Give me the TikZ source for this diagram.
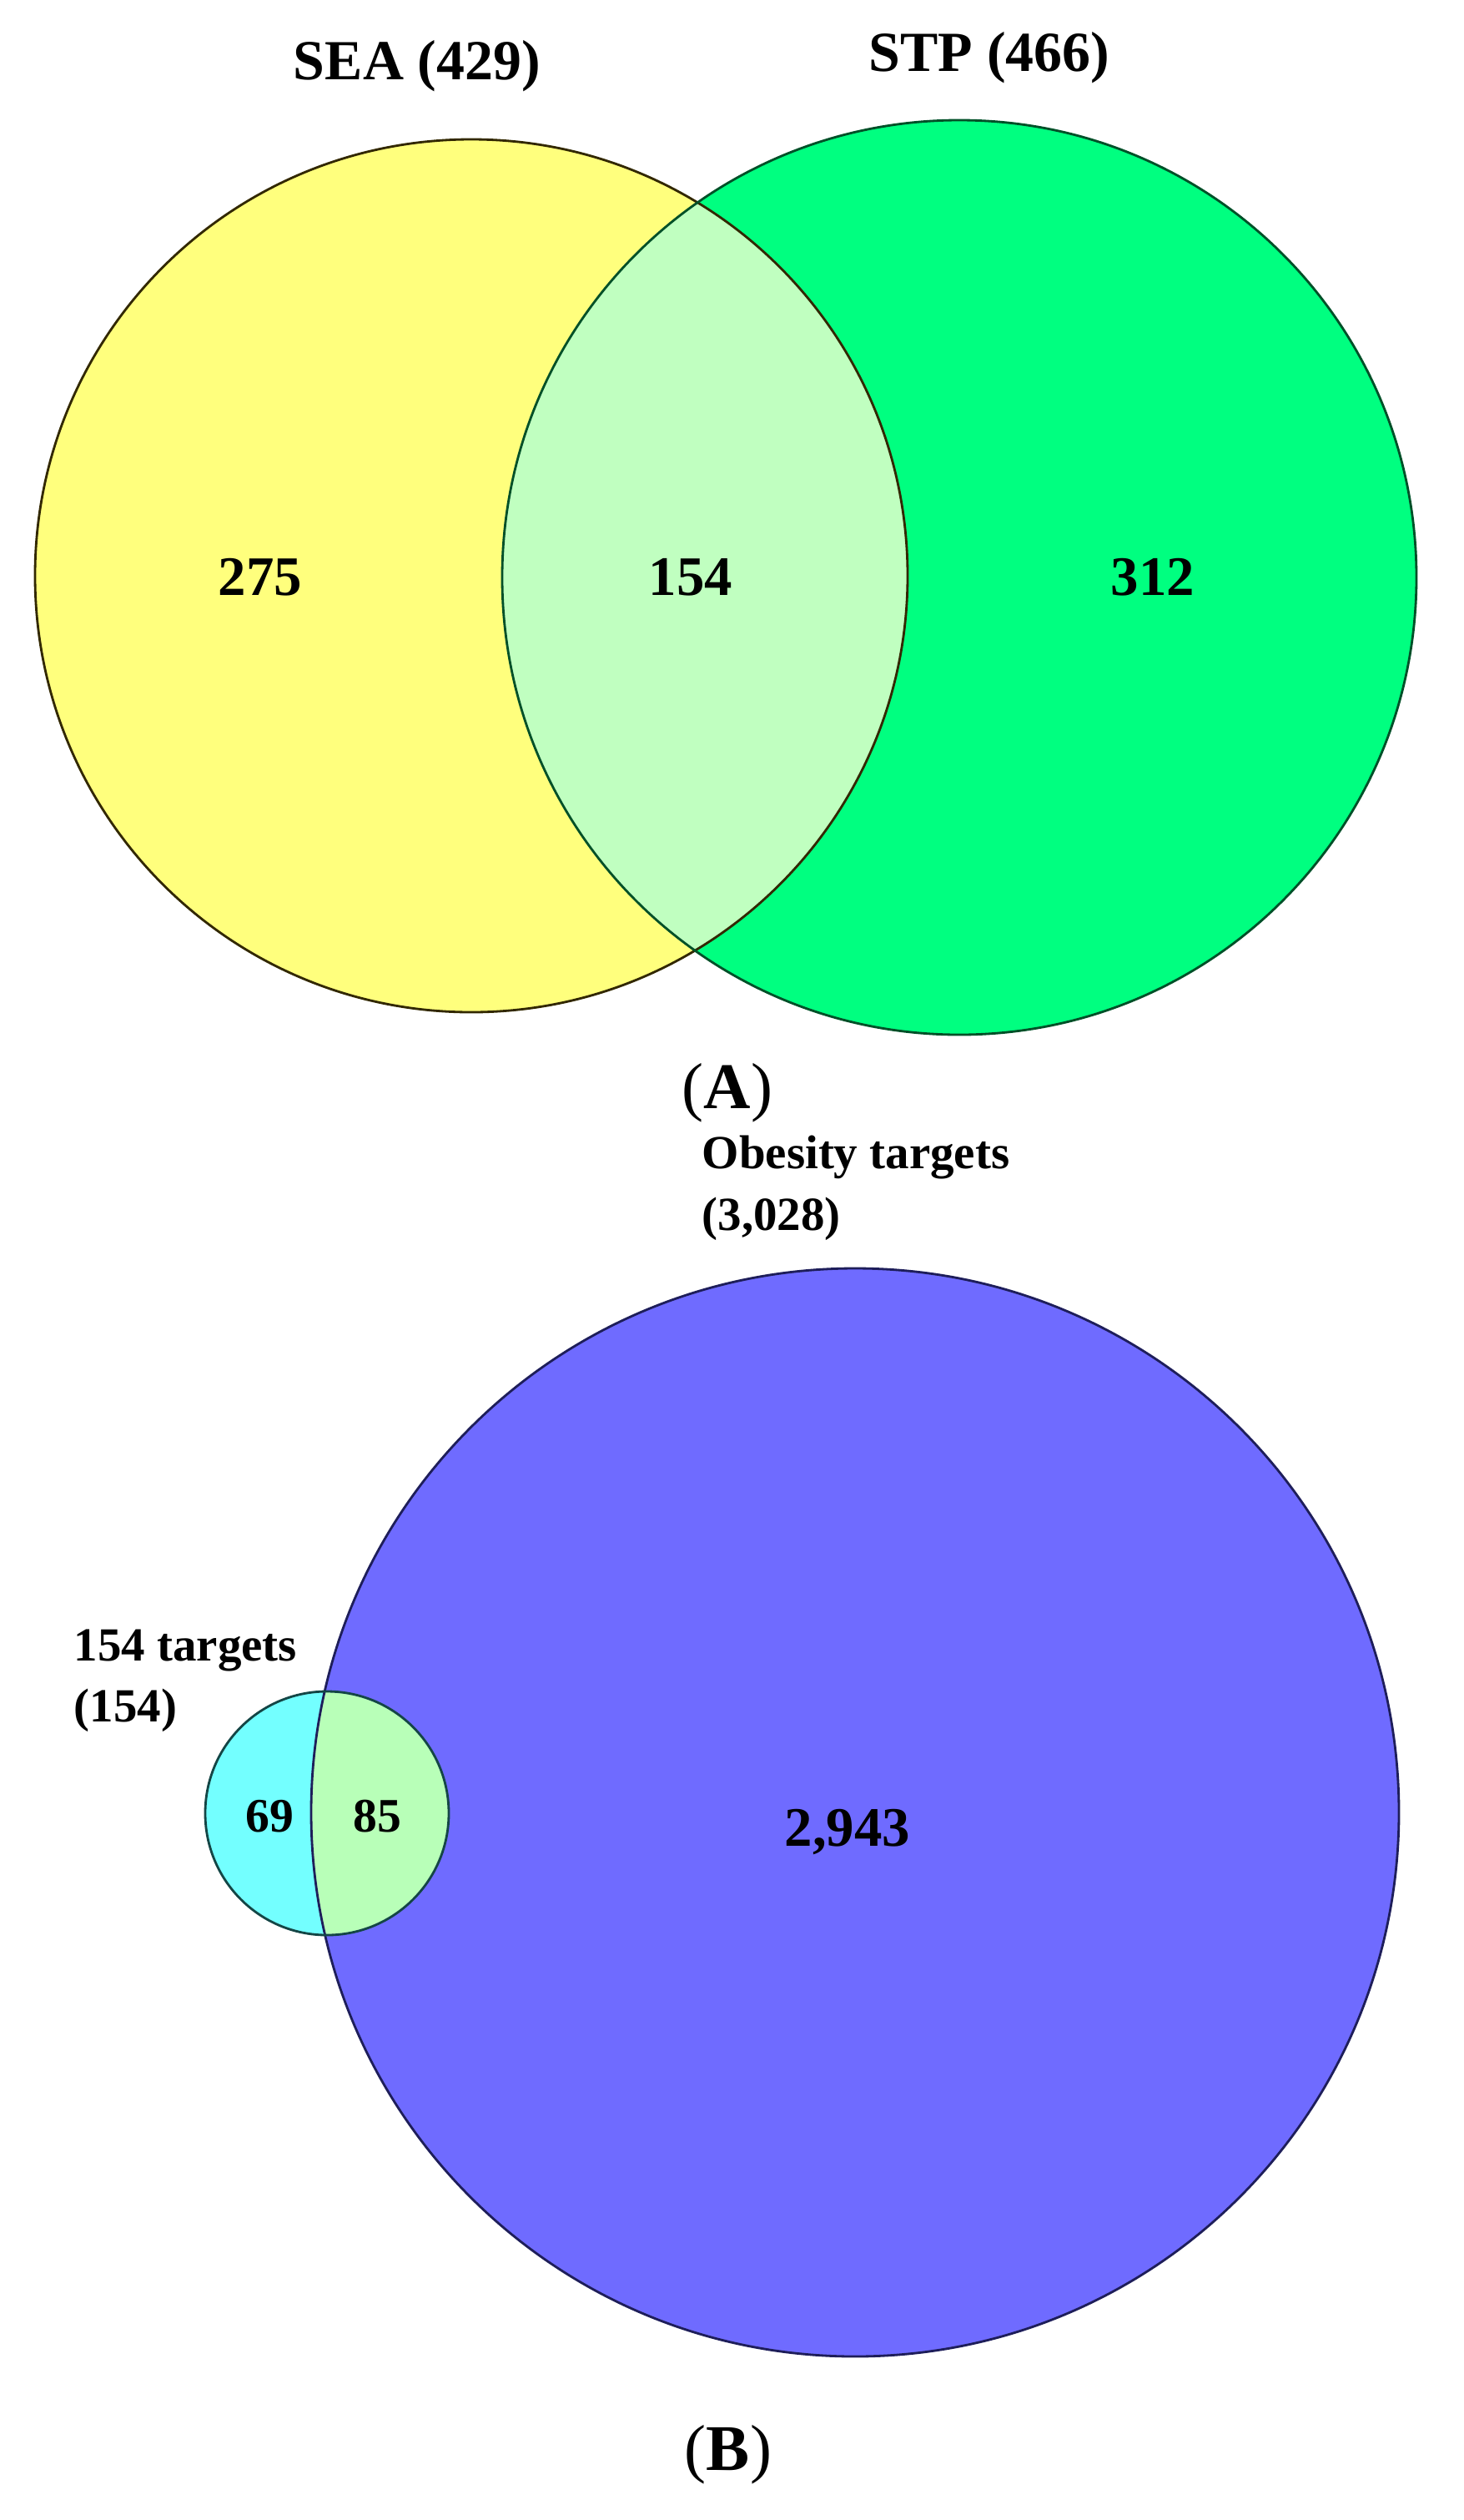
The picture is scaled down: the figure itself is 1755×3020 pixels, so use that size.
\documentclass[tikz,border=0pt]{standalone}
\usepackage{fontspec}
\setmainfont{Liberation Serif}
\definecolor{vyellow}{RGB}{255,255,125}
\definecolor{vgreen}{RGB}{0,255,128}
\definecolor{vlens}{RGB}{192,255,192}
\definecolor{vblue}{RGB}{111,107,255}
\definecolor{vcyan}{RGB}{115,255,255}
\definecolor{vlensb}{RGB}{184,255,184}
\definecolor{edgeY}{RGB}{50,40,0}
\definecolor{edgeG}{RGB}{0,80,40}
\definecolor{edgeB}{RGB}{30,30,90}
\definecolor{edgeC}{RGB}{20,70,70}
\newcommand\myfs[1]{\fontsize{#1}{#1}\selectfont}
\tikzset{
  lbl/.style={anchor=base, inner sep=0pt, font=\bfseries\myfs{19.3pt}},
  num/.style={anchor=base, inner sep=0pt, font=\bfseries\myfs{19pt}},
  sml/.style={anchor=base, inner sep=0pt, font=\bfseries\myfs{16.4pt}},
  tgt/.style={anchor=base west, inner sep=0pt, font=\bfseries\myfs{16.2pt}},
  panel/.style={anchor=base, inner sep=0pt, font=\myfs{22.2pt}},
  edge/.style={line width=0.8pt}
}
\begin{document}
\begin{tikzpicture}[x=0.01cm,y=-0.01cm]
\useasboundingbox (0,0) rectangle (1755,3020);
\fill[white] (0,0) rectangle (1755,3020);
% ---- Panel A ----
\fill[vyellow] (565,690) circle [radius=523];
\fill[vgreen] (1150,692) circle [radius=548];
\begin{scope}
  \clip (565,690) circle [radius=523];
  \fill[vlens] (1150,692) circle [radius=548];
\end{scope}
\draw[edge, edgeY] (565,690) circle [radius=523];
\draw[edge, edgeG] (1150,692) circle [radius=548];
\node[lbl] (sea) at (500,95) {SEA (429)};
\node[lbl] (stp) at (1186,85) {STP (466)};
\node[num] (n275) at (312,713) {275};
\node[num] (n154) at (828,713) {154};
\node[num] (n312) at (1382,713) {312};
\node[panel] (pa) at (872,1328) {(\textbf{A})};
% ---- Panel B ----
\fill[vblue] (1025,2172) circle [radius=652];
\fill[vcyan] (392,2173) circle [radius=146];
\begin{scope}
  \clip (392,2173) circle [radius=146];
  \fill[vlensb] (1025,2172) circle [radius=652];
\end{scope}
\draw[edge, edgeB] (1025,2172) circle [radius=652];
\draw[edge, edgeC] (392,2173) circle [radius=146];
\node[tgt] (obt) at (841,1400) {Obesity targets};
\node[tgt] (obn) at (841,1474) {(3,028)};
\node[tgt] (t154) at (88,1990) {154 targets};
\node[tgt] (n154b) at (88,2063) {(154)};
\node[sml] (n69) at (323,2195) {69};
\node[sml] (n85) at (452,2195) {85};
\node[num] (n2943) at (1016,2212) {2,943};
\node[panel] (pb) at (873,2960) {(\textbf{B})};
\end{tikzpicture}
\end{document}
